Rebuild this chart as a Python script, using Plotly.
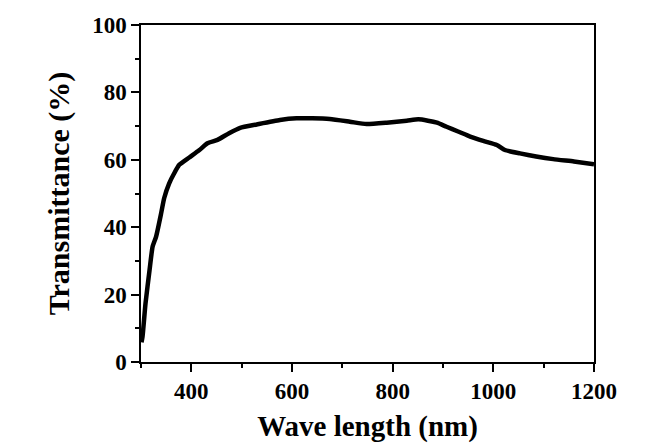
import plotly.graph_objects as go

wavelength = [301, 303, 309, 317, 323, 330, 340, 346, 356, 366, 376, 396, 416, 432, 452, 475, 497,
              530, 576, 609, 640, 675, 715, 748, 788, 828, 851, 870, 888, 907, 930, 954, 980, 1007,
              1023, 1053, 1085, 1119, 1160, 1200]
transmittance = [5.8, 7.5, 17.4, 27.3, 34.2, 37.2, 44.1, 48.6, 53.0, 56.0, 58.5, 60.7, 62.9, 64.9,
                 65.9, 67.9, 69.5, 70.5, 71.8, 72.3, 72.3, 72.1, 71.3, 70.6, 71.0, 71.6, 72.0, 71.6,
                 71.0, 69.8, 68.4, 66.9, 65.6, 64.4, 62.9, 61.9, 61.0, 60.2, 59.5, 58.7]

x_ticks = [400, 600, 800, 1000, 1200]
y_ticks = [0, 20, 40, 60, 80, 100]

font_family = "Liberation Serif"

fig = go.Figure()
fig.add_trace(go.Scatter(x=wavelength, y=transmittance, mode="lines",
                         line=dict(color="black", width=4.5, shape="spline", smoothing=0.5),
                         showlegend=False))

# page body has an 8px default margin, so the figure is shrunk by 8px
fig.update_layout(
    width=649, height=435,
    margin=dict(l=133, r=63, t=17, b=81),
    paper_bgcolor="white", plot_bgcolor="white",
    font=dict(family=font_family, color="black"),
)
fig.update_xaxes(
    range=[300, 1200], tickvals=x_ticks, ticktext=[f"<b>{v}</b>" for v in x_ticks],
    showline=True, linecolor="black", linewidth=1.5, mirror=True,
    ticks="outside", ticklen=8, tickwidth=1.5, tickcolor="black",
    minor=dict(tickvals=[300, 500, 700, 900, 1100], ticks="outside", ticklen=4, tickwidth=1.5, tickcolor="black"),
    showgrid=False, zeroline=False, automargin=False,
    tickfont=dict(size=23, family=font_family),
    title=dict(text="<b>Wave length (nm)</b>", font=dict(size=29, family=font_family), standoff=12),
)
fig.update_yaxes(
    range=[0, 100], tickvals=y_ticks, ticktext=[f"<b>{v}</b>" for v in y_ticks],
    showline=True, linecolor="black", linewidth=1.5, mirror=True,
    ticks="outside", ticklen=8, tickwidth=1.5, tickcolor="black",
    minor=dict(tickvals=[10, 30, 50, 70, 90], ticks="outside", ticklen=4, tickwidth=1.5, tickcolor="black"),
    showgrid=False, zeroline=False, automargin=False,
    tickfont=dict(size=23, family=font_family),
    title=dict(text="<b>Transmittance (%)</b>", font=dict(size=30, family=font_family), standoff=14),
)

fig.write_html("out.html")
